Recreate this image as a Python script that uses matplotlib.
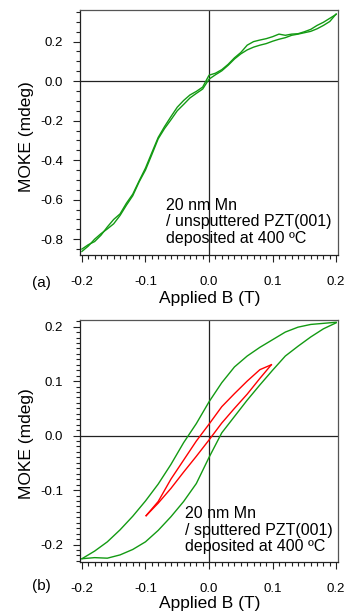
import matplotlib
matplotlib.use("Agg")
import matplotlib.pyplot as plt
from matplotlib.ticker import MultipleLocator, FormatStrFormatter

plt.rcParams['font.family'] = ['Liberation Sans', 'DejaVu Sans']
plt.rcParams['axes.unicode_minus'] = False

# --- panel (a): 20 nm Mn / unsputtered PZT(001) ---
field_a = [-0.20, -0.19, -0.18, -0.17, -0.16, -0.15, -0.14, -0.13, -0.12, -0.11,
           -0.10, -0.09, -0.08, -0.07, -0.06, -0.05, -0.04, -0.03, -0.02, -0.01,
           0.00, 0.01, 0.02, 0.03, 0.04, 0.05, 0.06, 0.07, 0.08, 0.09,
           0.10, 0.11, 0.12, 0.13, 0.14, 0.15, 0.16, 0.17, 0.18, 0.19, 0.20]
moke_a_up = [-0.862, -0.835, -0.800, -0.772, -0.748, -0.722, -0.680, -0.628, -0.580, -0.510,
             -0.450, -0.372, -0.292, -0.240, -0.196, -0.150, -0.118, -0.085, -0.062, -0.040,
             0.010, 0.032, 0.052, 0.080, 0.112, 0.138, 0.158, 0.172, 0.182, 0.190,
             0.202, 0.212, 0.220, 0.232, 0.238, 0.245, 0.252, 0.265, 0.282, 0.302, 0.340]
moke_a_down = [-0.850, -0.828, -0.812, -0.780, -0.738, -0.700, -0.672, -0.618, -0.572, -0.505,
               -0.440, -0.362, -0.285, -0.230, -0.180, -0.132, -0.098, -0.070, -0.052, -0.030,
               0.030, 0.040, 0.058, 0.085, 0.118, 0.145, 0.182, 0.200, 0.208, 0.215,
               0.225, 0.238, 0.232, 0.238, 0.240, 0.250, 0.262, 0.282, 0.298, 0.318, 0.338]

# --- panel (b): 20 nm Mn / sputtered PZT(001) ---
field_b = [-0.20, -0.18, -0.16, -0.14, -0.12, -0.10, -0.08, -0.06, -0.04, -0.02,
           0.00, 0.02, 0.04, 0.06, 0.08, 0.10, 0.12, 0.14, 0.16, 0.18, 0.20]
moke_b_up = [-0.226, -0.224, -0.225, -0.219, -0.209, -0.195, -0.174, -0.149, -0.121, -0.088,
             -0.040, 0.005, 0.035, 0.065, 0.093, 0.120, 0.146, 0.164, 0.181, 0.196, 0.207]
moke_b_down = [-0.226, -0.212, -0.195, -0.173, -0.148, -0.120, -0.089, -0.053, -0.013, 0.022,
               0.062, 0.097, 0.126, 0.146, 0.162, 0.176, 0.190, 0.199, 0.204, 0.206, 0.208]

field_minor = [-0.099, -0.08, -0.06, -0.04, -0.02, 0.00, 0.02, 0.04, 0.06, 0.08, 0.098]
moke_minor_up = [-0.147, -0.124, -0.097, -0.067, -0.038, -0.008, 0.023, 0.050, 0.076, 0.105, 0.130]
moke_minor_down = [-0.147, -0.121, -0.080, -0.045, -0.010, 0.021, 0.053, 0.077, 0.100, 0.121, 0.130]

GREEN = '#139a13'
RED = '#ff0000'

fig = plt.figure(figsize=(3.54, 6.14), dpi=100)
ax_a = fig.add_axes([0.226, 0.5847, 0.729, 0.399])
ax_b = fig.add_axes([0.226, 0.0847, 0.729, 0.394])


def style_axes(ax, ymajor, yminor):
    ax.set_xlim(-0.203, 0.203)
    ax.xaxis.set_major_locator(MultipleLocator(0.1))
    ax.xaxis.set_minor_locator(MultipleLocator(0.01))
    ax.yaxis.set_major_locator(MultipleLocator(ymajor))
    ax.yaxis.set_minor_locator(MultipleLocator(yminor))
    ax.xaxis.set_major_formatter(FormatStrFormatter('%.1f'))
    ax.yaxis.set_major_formatter(FormatStrFormatter('%.1f'))
    ax.tick_params(axis='both', which='both', direction='out', top=False, right=False,
                   color='#222222', labelsize=9.5)
    ax.tick_params(axis='both', which='major', length=5, width=0.8)
    ax.tick_params(axis='both', which='minor', length=3, width=0.8)
    ax.tick_params(axis='x', which='major', pad=10)
    ax.tick_params(axis='y', which='major', pad=7)
    for side in ['top', 'right']:
        ax.spines[side].set_color('#555555')
        ax.spines[side].set_linewidth(0.9)
    for side in ['left', 'bottom']:
        ax.spines[side].set_color('#222222')
        ax.spines[side].set_linewidth(0.9)
    ax.axhline(0, color='#222222', lw=0.9, zorder=1)
    ax.axvline(0, color='#222222', lw=0.9, zorder=1)
    ax.set_xlabel('Applied B (T)', fontsize=12.5)
    ax.set_ylabel('MOKE (mdeg)', fontsize=12.5)


# (a)
style_axes(ax_a, 0.2, 0.05)
ax_a.set_ylim(-0.88, 0.36)
ax_a.plot(field_a, moke_a_up, color=GREEN, lw=1.0, zorder=3)
ax_a.plot(field_a[::-1], moke_a_down[::-1], color=GREEN, lw=1.0, zorder=3)
ax_a.xaxis.set_label_coords(0.504, -0.145)
ax_a.yaxis.set_label_coords(-0.178, 0.483)
ax_a.text(0.332, 0.135, '20 nm Mn\n/ unsputtered PZT(001)\ndeposited at 400 ºC',
          transform=ax_a.transAxes, fontsize=11.5, va='center', ha='left', linespacing=1.15)
ax_a.text(-0.151, -0.113, '(a)', transform=ax_a.transAxes, fontsize=11,
          ha='center', va='center')

# (b)
style_axes(ax_b, 0.1, 0.01)
ax_b.set_ylim(-0.232, 0.212)
ax_b.plot(field_b, moke_b_up, color=GREEN, lw=1.0, zorder=3)
ax_b.plot(field_b[::-1], moke_b_down[::-1], color=GREEN, lw=1.0, zorder=3)
ax_b.plot(field_minor, moke_minor_up, color=RED, lw=1.0, zorder=4)
ax_b.plot(field_minor[::-1], moke_minor_down[::-1], color=RED, lw=1.0, zorder=4)
ax_b.xaxis.set_label_coords(0.504, -0.14)
ax_b.yaxis.set_label_coords(-0.178, 0.49)
ax_b.text(0.407, 0.132, '20 nm Mn\n/ sputtered PZT(001)\ndeposited at 400 ºC',
          transform=ax_b.transAxes, fontsize=11.5, va='center', ha='left', linespacing=1.15)
ax_b.text(-0.151, -0.1, '(b)', transform=ax_b.transAxes, fontsize=11,
          ha='center', va='center')

fig.savefig('out.png', dpi=100)
